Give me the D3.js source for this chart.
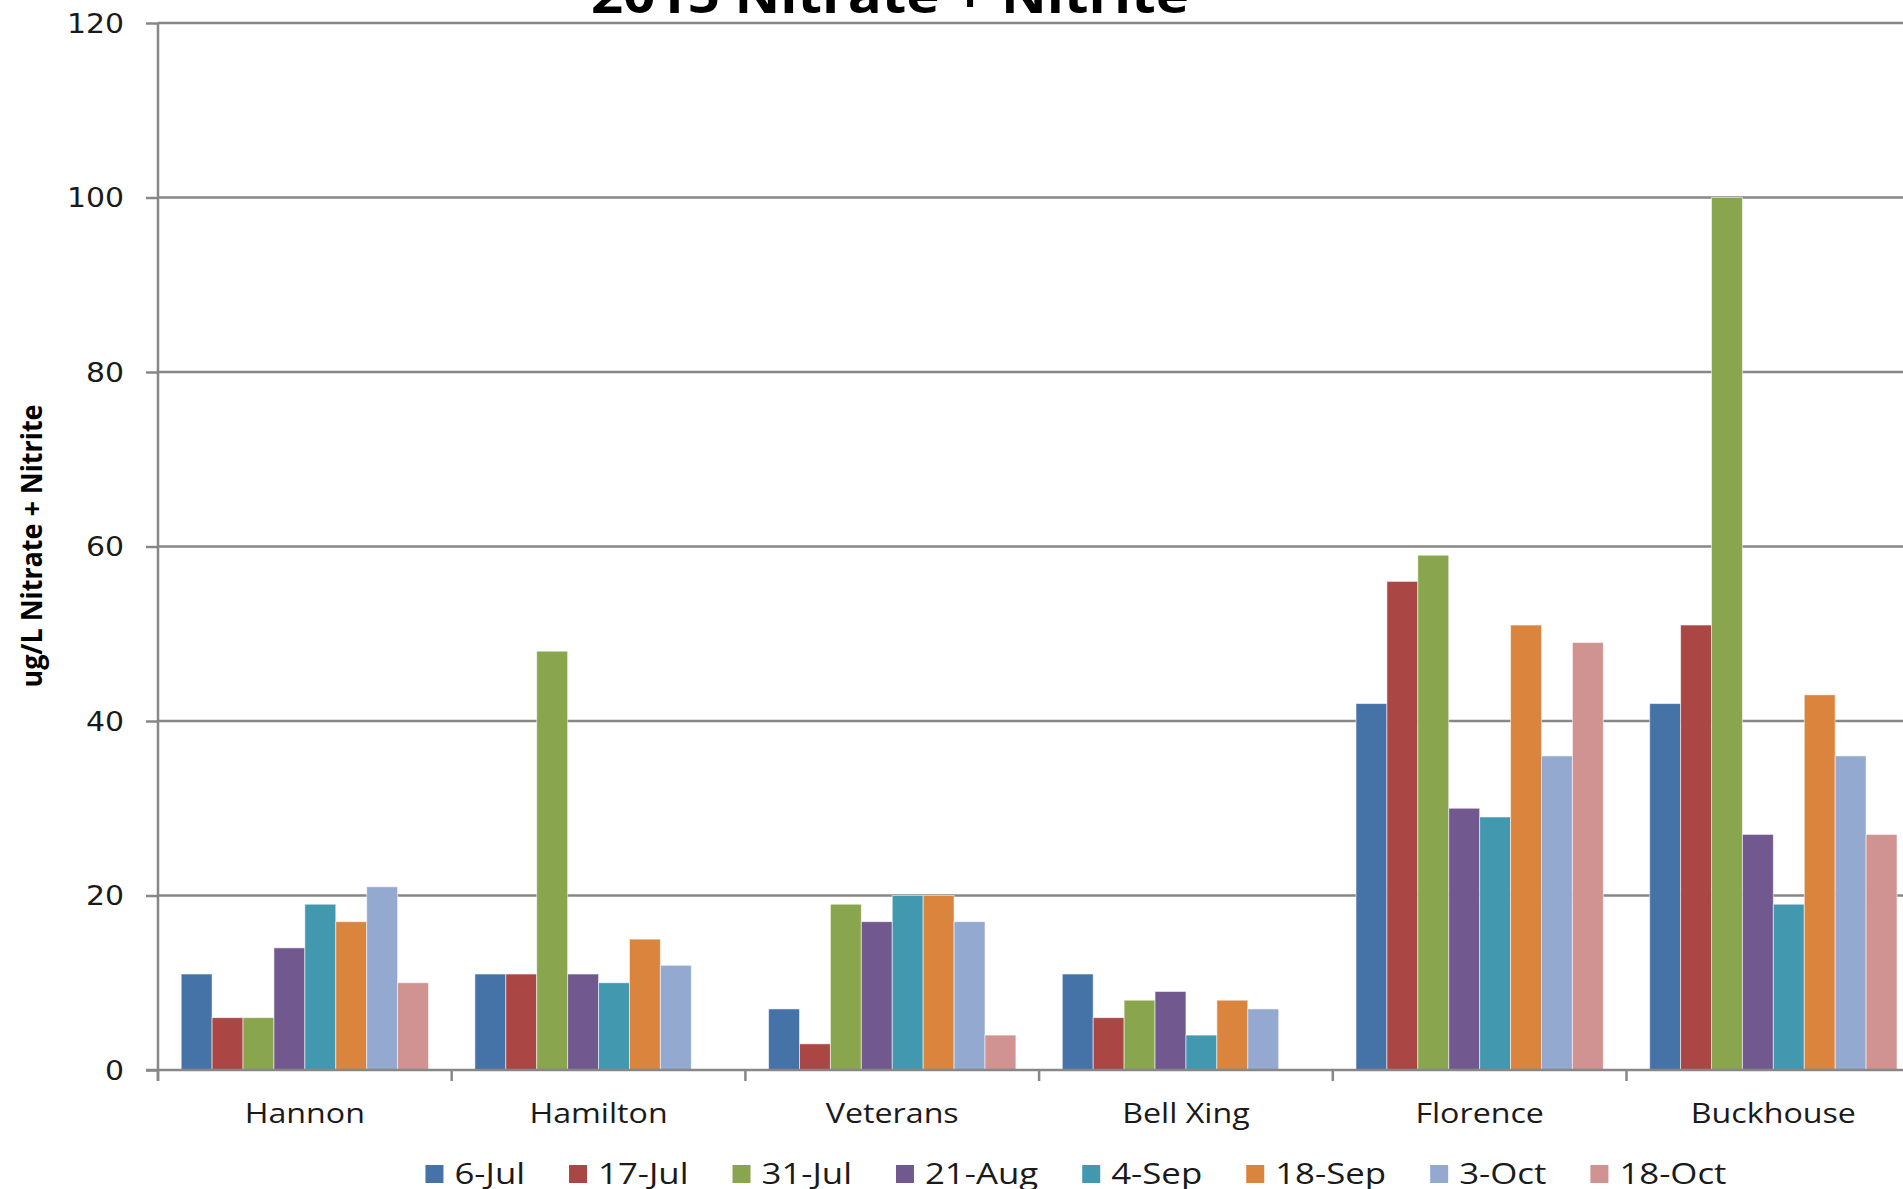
<!DOCTYPE html>
<html>
<head>
<meta charset="utf-8">
<script src="https://cdn.jsdelivr.net/npm/d3@7"></script>
<style>
  body { margin: 0; background: #fff; }
  svg { display: block; }
  .grid line { stroke: #878787; stroke-width: 2.5; }
  .axis path, .axis line { stroke: #878787; stroke-width: 2.5; }
  .axis text { font-family: "DejaVu Sans", sans-serif; font-size: 26px; fill: #1a1a1a; }
  .cat { font-family: "Open Sans", sans-serif; font-size: 28px; fill: #1a1a1a; }
  .legend text { font-family: "Open Sans", sans-serif; font-size: 29px; fill: #1a1a1a; }
</style>
</head>
<body>
<svg id="chart" width="1903" height="1189"></svg>
<script>
var sites = ["Hannon", "Hamilton", "Veterans", "Bell Xing", "Florence", "Buckhouse"];
var dates = ["6-Jul", "17-Jul", "31-Jul", "21-Aug", "4-Sep", "18-Sep", "3-Oct", "18-Oct"];

/* one array per sampling date, in site order */
var jul6  = [11, 11, 7, 11, 42, 42];
var jul17 = [6, 11, 3, 6, 56, 51];
var jul31 = [6, 48, 19, 8, 59, 100];
var aug21 = [14, 11, 17, 9, 30, 27];
var sep4  = [19, 10, 20, 4, 29, 19];
var sep18 = [17, 15, 20, 8, 51, 43];
var oct3  = [21, 12, 17, 7, 36, 36];
var oct18 = [10, null, 4, null, 49, 27];

var yTicks = [0, 20, 40, 60, 80, 100, 120];
var colors = ["#4572A7", "#AA4643", "#89A54E", "#71588F", "#4198AF", "#DB843D", "#93A9CF", "#D19392"];

var series = [jul6, jul17, jul31, aug21, sep4, sep18, oct3, oct18];

var plot_left = 158, plot_top = 23, plot_bottom = 1070;
var band = 293.7;
var text_stretch = 1.15;

var svg = d3.select("#chart");

var x0 = d3.scaleBand().domain(sites).range([plot_left, plot_left + band * sites.length]).padding(0);
/* excel gap width 150% -> 0.75 bar each side */
var x1 = d3.scaleBand().domain(dates).range([0, x0.bandwidth()]).paddingInner(0).paddingOuter(0.75);
var y = d3.scaleLinear().domain([0, 120]).range([plot_bottom, plot_top]);
var color = d3.scaleOrdinal().domain(dates).range(colors);

// gridlines
svg.append("g").attr("class", "grid")
    .selectAll("line").data(yTicks.filter(function (d) { return d > 0; }))
    .enter().append("line")
    .attr("x1", plot_left).attr("x2", 1903)
    .attr("y1", function (d) { return y(d); })
    .attr("y2", function (d) { return y(d); });

// bars
var rows = [];
sites.forEach(function (s, i) {
    dates.forEach(function (dt, j) {
        if (series[j][i] != null) rows.push({site: s, date: dt, value: series[j][i]});
    });
});

svg.append("g").selectAll("rect").data(rows).enter().append("rect")
    .attr("x", function (d) { return x0(d.site) + x1(d.date); })
    .attr("y", function (d) { return y(d.value); })
    .attr("width", x1.bandwidth())
    .attr("height", function (d) { return plot_bottom - y(d.value); })
    .attr("fill", function (d) { return color(d.date); })
    .attr("stroke", "#ffffff").attr("stroke-opacity", 0.55).attr("stroke-width", 1);

// y axis
var yAxis = svg.append("g").attr("class", "axis").attr("transform", "translate(" + plot_left + ",0)")
    .call(d3.axisLeft(y).tickValues(yTicks).tickSize(12).tickSizeOuter(0));
yAxis.select(".domain").remove();
yAxis.selectAll(".tick text")
    .attr("x", null).attr("dy", "0.36em")
    .attr("transform", "translate(-34,0) scale(" + text_stretch + ",1)");
svg.append("line")
    .attr("x1", plot_left).attr("x2", plot_left).attr("y1", plot_top).attr("y2", plot_bottom + 11)
    .attr("stroke", "#878787").attr("stroke-width", 2.5);

// x axis
svg.append("line")
    .attr("x1", plot_left - 12).attr("x2", 1903).attr("y1", plot_bottom).attr("y2", plot_bottom)
    .attr("stroke", "#878787").attr("stroke-width", 2.5);
svg.append("g").selectAll("line").data(sites).enter().append("line")
    .attr("x1", function (d) { return x0(d); }).attr("x2", function (d) { return x0(d); })
    .attr("y1", plot_bottom).attr("y2", plot_bottom + 11)
    .attr("stroke", "#878787").attr("stroke-width", 2.5);

svg.append("g").selectAll("g").data(sites).enter().append("g")
    .attr("transform", function (d) {
        return "translate(" + (x0(d) + x0.bandwidth() / 2) + ",1123) scale(" + text_stretch + ",1)";
    })
    .append("text").attr("class", "cat").attr("text-anchor", "middle")
    .text(function (d) { return d; });

// title (cut off at the top edge)
svg.append("text")
    .attr("x", 890).attr("y", 13)
    .attr("text-anchor", "middle")
    .attr("textLength", 598).attr("lengthAdjust", "spacingAndGlyphs")
    .style("font-family", "'Open Sans', sans-serif").style("font-weight", "700").style("font-size", "50px")
    .attr("fill", "#000")
    .text("2015 Nitrate + Nitrite");

// y label
svg.append("text")
    .attr("transform", "translate(42,546) rotate(-90)")
    .attr("text-anchor", "middle")
    .attr("textLength", 283).attr("lengthAdjust", "spacingAndGlyphs")
    .style("font-family", "'Open Sans', sans-serif").style("font-weight", "700").style("font-size", "29px")
    .attr("fill", "#000")
    .text("ug/L Nitrate + Nitrite");

// legend
var legend_stretch = 1.2;
var legend = svg.append("g").attr("class", "legend");
var items = legend.selectAll("g").data(dates).enter().append("g");
items.append("rect").attr("width", 18).attr("height", 18).attr("y", 1165)
    .attr("fill", function (d) { return color(d); });
var labels = items.append("text").text(function (d) { return d; });

var widths = [];
labels.each(function () { widths.push(this.getComputedTextLength() * legend_stretch); });
var item_gap = 44, swatch_gap = 29;
var total = d3.sum(widths) + widths.length * swatch_gap + (widths.length - 1) * item_gap;
var cx = 1076;
var pos = cx - total / 2;
items.each(function (d, i) {
    var g = d3.select(this);
    g.select("rect").attr("x", pos);
    g.select("text").attr("transform", "translate(" + (pos + swatch_gap) + ",1184) scale(" + legend_stretch + ",1)");
    pos += swatch_gap + widths[i] + item_gap;
});
</script>
</body>
</html>
